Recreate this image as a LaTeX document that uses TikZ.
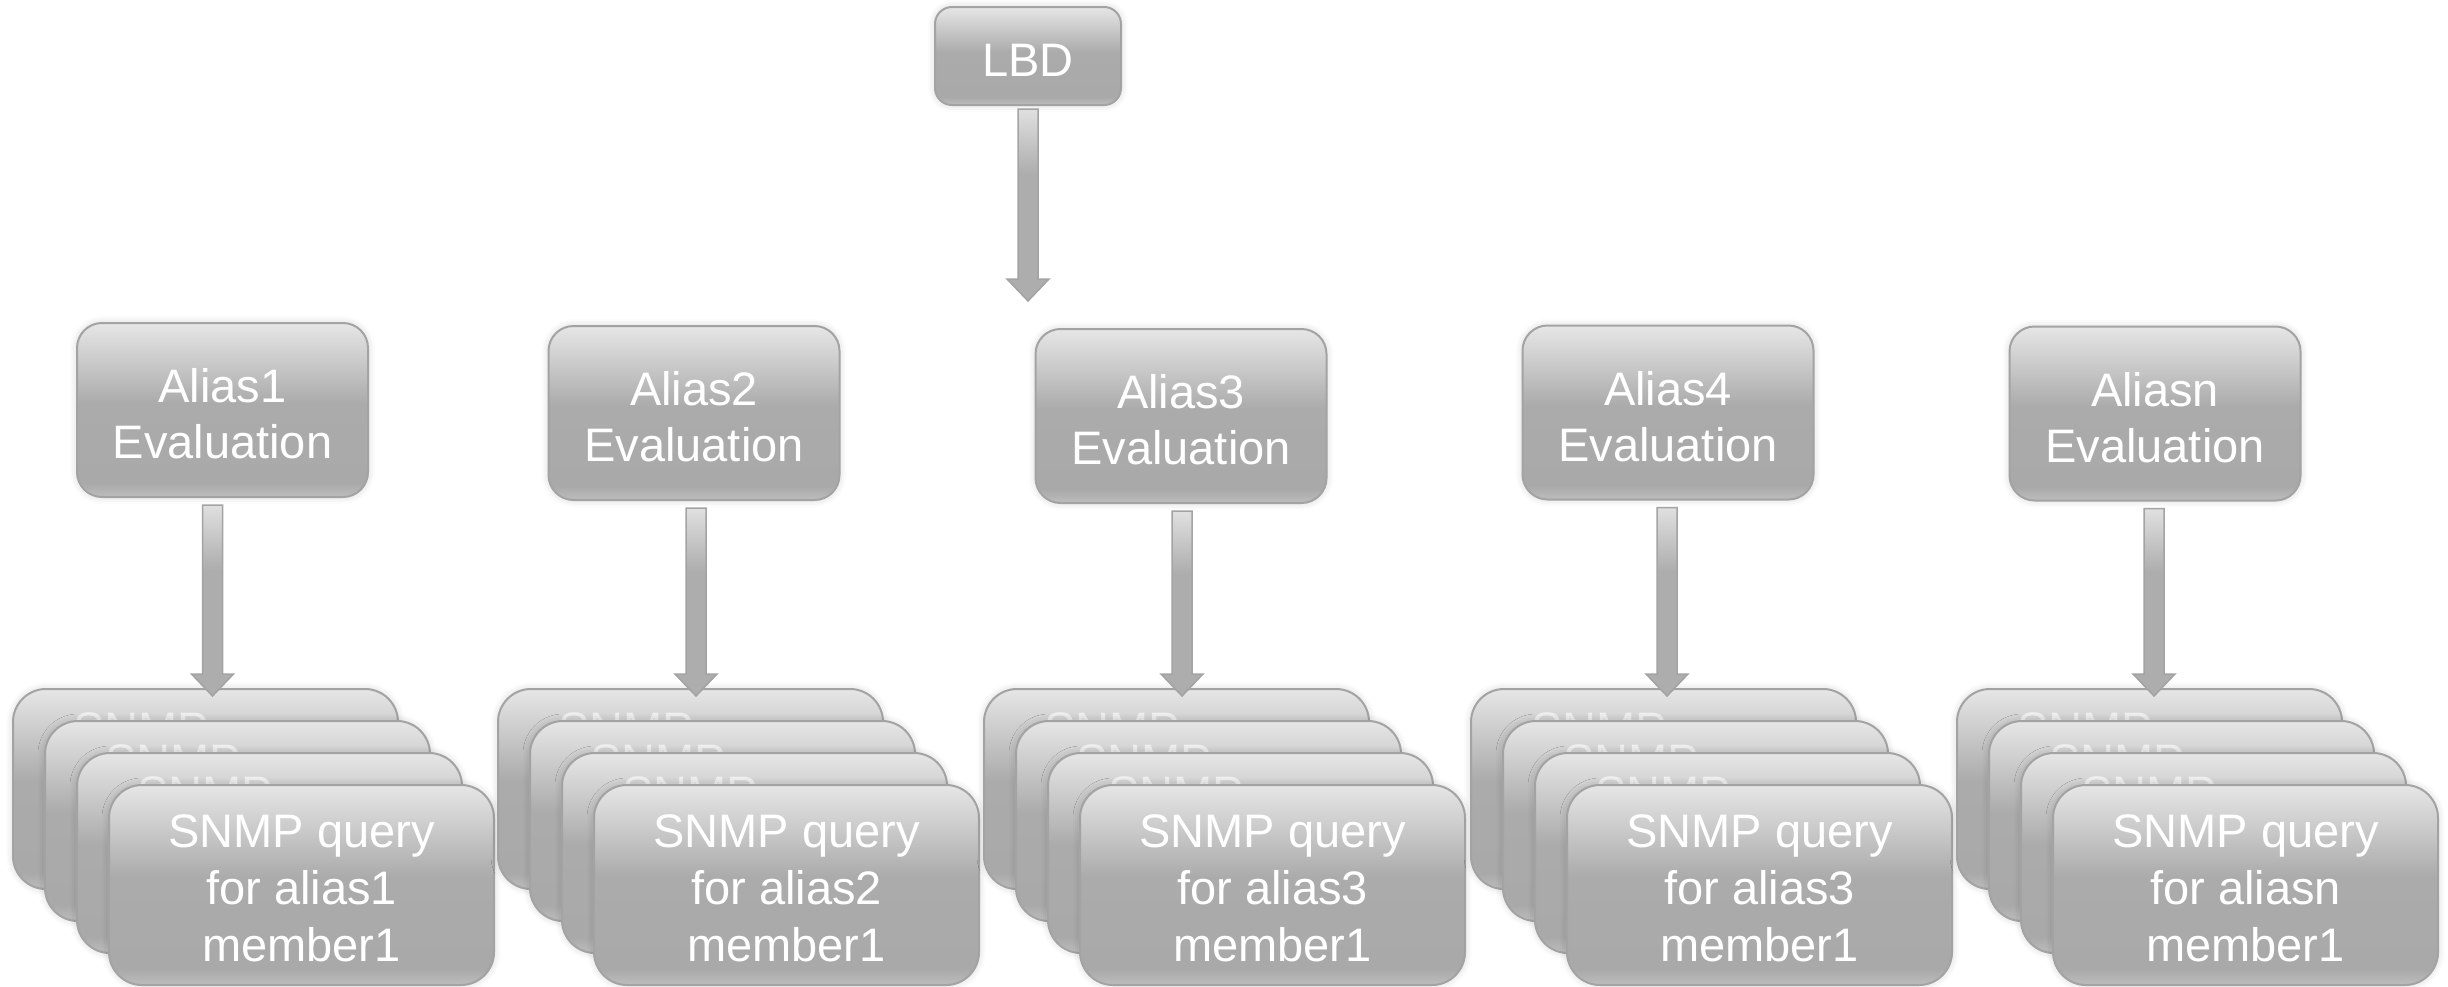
\documentclass[tikz,border=0pt]{standalone}
\usepackage{fontspec}
\setmainfont{Liberation Sans}
\usetikzlibrary{calc,shadows.blur}

\definecolor{bordc}{HTML}{A3A3A3}
\definecolor{shT}{HTML}{E6E6E6}
\definecolor{shU}{HTML}{CFCFCF}
\definecolor{shM}{HTML}{ABABAB}
\definecolor{shL}{HTML}{A9A9A9}
\definecolor{shB}{HTML}{BDBDBD}
\definecolor{arT}{HTML}{E0E0E0}
\definecolor{arB}{HTML}{ADADAD}

\pgfdeclareverticalshading{glossy}{100bp}{color(0bp)=(shB); color(25bp)=(shB); color(29bp)=(shL); color(52bp)=(shM); color(66bp)=(shU); color(75bp)=(shT); color(100bp)=(shT)}
\pgfdeclareverticalshading{arrowshade}{100bp}{color(0bp)=(arB); color(25bp)=(arB); color(58bp)=(arB); color(75bp)=(arT); color(100bp)=(arT)}

\newcommand\blockarr[2]{%
  \path[blockarrow] let \p1=(#1), \p2=(#2) in
    (\x1-10pt,\y1) -- (\x1+10pt,\y1) -- (\x1+10pt,\y2+22pt) -- (\x1+21pt,\y2+22pt)
    -- (\x1,\y2) -- (\x1-21pt,\y2+22pt) -- (\x1-10pt,\y2+22pt) -- cycle;}
\newcommand\topstrut[1]{\rule{0pt}{#1pt}}

\begin{document}
\begin{tikzpicture}[x=1pt,y=-1pt,
  glow/.style={blur shadow={shadow xshift=0pt, shadow yshift=0pt, shadow blur radius=7pt, shadow opacity=18}},
  box/.style={draw=bordc, line width=2pt, shading=glossy, text=white, align=center,
    font=\fontsize{47}{56}\selectfont, inner sep=0pt, glow},
  lbdbox/.style={box, minimum width=186pt, minimum height=98pt, rounded corners=17pt},
  aliasbox/.style={box, minimum width=291pt, minimum height=174pt, rounded corners=25pt},
  snmpbox/.style={box, minimum width=385pt, minimum height=200pt, rounded corners=33pt,
    font=\fontsize{47}{57}\selectfont},
  ghost/.style={text=white, text opacity=0.6, font=\fontsize{47}{57}\selectfont,
    inner sep=0pt, anchor=north west},
  blockarrow/.style={draw=bordc, line width=1.5pt, shading=arrowshade}
]
\useasboundingbox (0,0) rectangle (2448,986);

\node[lbdbox] (lbd) at (1028,56) {\topstrut{40}LBD};

\foreach \k/\L/\ax/\ay/\alab/\slab in {%
  1/13/222.5/410/Alias1/alias1,
  2/498/694/413/Alias2/alias2,
  3/984/1181/416/Alias3/alias3,
  4/1471/1668/412.5/Alias4/alias3,
  5/1957/2155/413.5/Aliasn/aliasn}{
  \node[aliasbox] (a\k) at (\ax,\ay) {\topstrut{42}\alab\\Evaluation};
  \node[snmpbox] (s\k a) at (\L+192.5,789) {};
  \node[ghost] (g\k a) at ($(s\k a.north west)+(61,24)$) {SNMP};
  \node[snmpbox] (s\k b) at (\L+224.5,821) {};
  \node[ghost] (g\k b) at ($(s\k b.north west)+(61,24)$) {SNMP};
  \node[snmpbox] (s\k c) at (\L+256.5,853) {};
  \node[ghost] (g\k c) at ($(s\k c.north west)+(61,24)$) {SNMP};
  \node[snmpbox] (s\k d) at (\L+288.5,885) {\topstrut{40}SNMP query\\for \slab\\member1};
}

% connectors
\coordinate (lbdtip) at ($(lbd.south |- a3.north)+(0,-27)$);
\blockarr{$(lbd.south)+(0,3)$}{lbdtip}

\foreach \k/\dx in {1/-10,2/2,3/1,4/-1,5/-1}{
  \coordinate (st\k) at ($(a\k.south)+(\dx,7)$);
  \coordinate (en\k) at ($(a\k.south |- s\k a.north)+(\dx,8)$);
  \blockarr{st\k}{en\k}
}
\end{tikzpicture}
\end{document}
